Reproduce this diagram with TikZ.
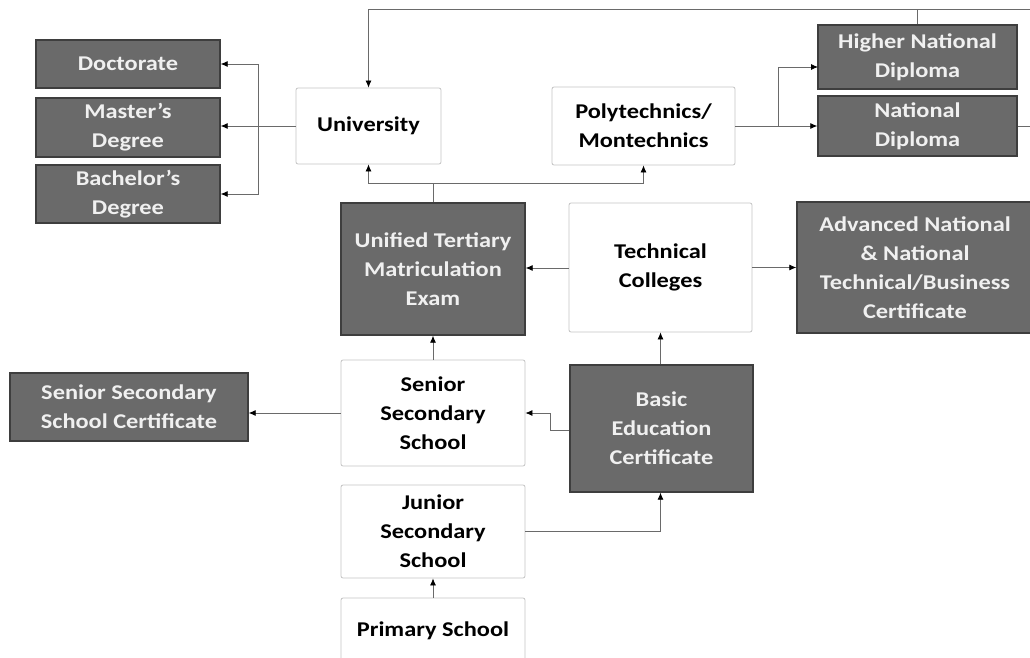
\documentclass[tikz,border=0pt]{standalone}
\usepackage{fontspec}
\setmainfont{Carlito}[FakeStretch=1.16]
\usetikzlibrary{arrows.meta}
\definecolor{darkfill}{HTML}{6A6A6A}
\definecolor{darkline}{HTML}{3E3E3E}
\definecolor{lightline}{HTML}{C4C4C4}
\definecolor{conn}{HTML}{6A6A6A}
\tikzset{
  basebox/.style={align=center, inner sep=2pt, font=\fontsize{21}{29}\selectfont\bfseries},
  darkbox/.style={basebox, fill=darkfill, draw=darkline, line width=1.4pt, text=white!94!black},
  lightbox/.style={basebox, fill=white, draw=lightline, line width=0.8pt, rounded corners=2pt, text=black},
  arr/.style={draw=conn, line width=0.8pt, -{Latex[length=7pt,width=6pt,color=black]}},
  ln/.style={draw=conn, line width=0.8pt},
}
\begin{document}
\begin{tikzpicture}[x=1pt,y=-1pt]
\useasboundingbox (0,0) rectangle (1030,658);
\begin{scope}
\clip (0,0) rectangle (1030,658);
% dark boxes
\node[darkbox, minimum width=184, minimum height=48] (doc) at (128,64) {Doctorate};
\node[darkbox, minimum width=184, minimum height=59] (mas) at (128,127.5) {Master’s\\Degree};
\node[darkbox, minimum width=184, minimum height=58] (bac) at (128,194) {Bachelor’s\\Degree};
\node[darkbox, minimum width=199, minimum height=64] (hnd) at (917.5,57) {Higher National\\Diploma};
\node[darkbox, minimum width=199, minimum height=60] (nd) at (917.5,126) {National\\Diploma};
\node[darkbox, minimum width=184, minimum height=132] (utme) at (433,269) {Unified Tertiary\\Matriculation\\Exam};
\node[darkbox, minimum width=236, minimum height=131] (adv) at (915,267.5) {Advanced National\\\& National\\Technical/Business\\Certificate};
\node[darkbox, minimum width=238, minimum height=68] (ssc) at (129,407) {Senior Secondary\\School Certificate};
\node[darkbox, minimum width=183, minimum height=127] (bec) at (661.5,428.5) {Basic\\Education\\Certificate};
% light boxes
\node[lightbox, minimum width=145, minimum height=76] (uni) at (368.5,126) {University};
\node[lightbox, minimum width=183, minimum height=78] (poly) at (643.5,126) {Polytechnics/\\Montechnics};
\node[lightbox, minimum width=183, minimum height=129] (tc) at (660.5,267.5) {Technical\\Colleges};
\node[lightbox, minimum width=184, minimum height=106] (sss) at (433,413) {Senior\\Secondary\\School};
\node[lightbox, minimum width=184, minimum height=93] (jss) at (433,531.5) {Junior\\Secondary\\School};
\node[lightbox, minimum width=184, minimum height=66] (ps) at (433,631) {Primary School};
% coordinates
\coordinate (topr) at (1030,9);
\coordinate (ndr) at (1030,126);
\coordinate (unibr) at (258,126);
\coordinate (utmesplit) at (433,183);
\coordinate (polybr) at (778,126);
\coordinate (hndin) at (818,67);
% connectors
\draw[arr] (hnd.north) -- (hnd.north |- topr) -| (uni.north);
\draw[ln] (hnd.north |- topr) -- (topr);
\draw[ln] (uni.west) -- (unibr);
\draw[arr] (unibr) |- (doc.east);
\draw[arr] (unibr) -- (mas.east |- unibr);
\draw[arr] (unibr) |- (bac.east);
\draw[ln] (utme.north) -- (utmesplit);
\draw[arr] (utmesplit) -| (uni.south);
\draw[arr] (utmesplit) -| (poly.south);
\draw[arr] (poly.east) -- (nd.west);
\draw[arr] (polybr) |- (hndin);
\draw[ln] (nd.east) -- (ndr);
\draw[arr] (tc.west |- 0,268) -- (utme.east |- 0,268);
\draw[arr] (tc.east) -- (adv.west);
\draw[arr] (bec.north -| tc.south) -- (tc.south);
\draw[arr] (sss.north) -- (utme.south);
\draw[arr] (sss.west) -- (sss.west -| ssc.east);
\draw[arr] (bec.west |- 0,430) -- (550,430) |- (sss.east);
\draw[arr] (jss.east) -| (bec.south -| tc.south);
\draw[arr] (ps.north) -- (jss.south);
\end{scope}
\end{tikzpicture}
\end{document}
